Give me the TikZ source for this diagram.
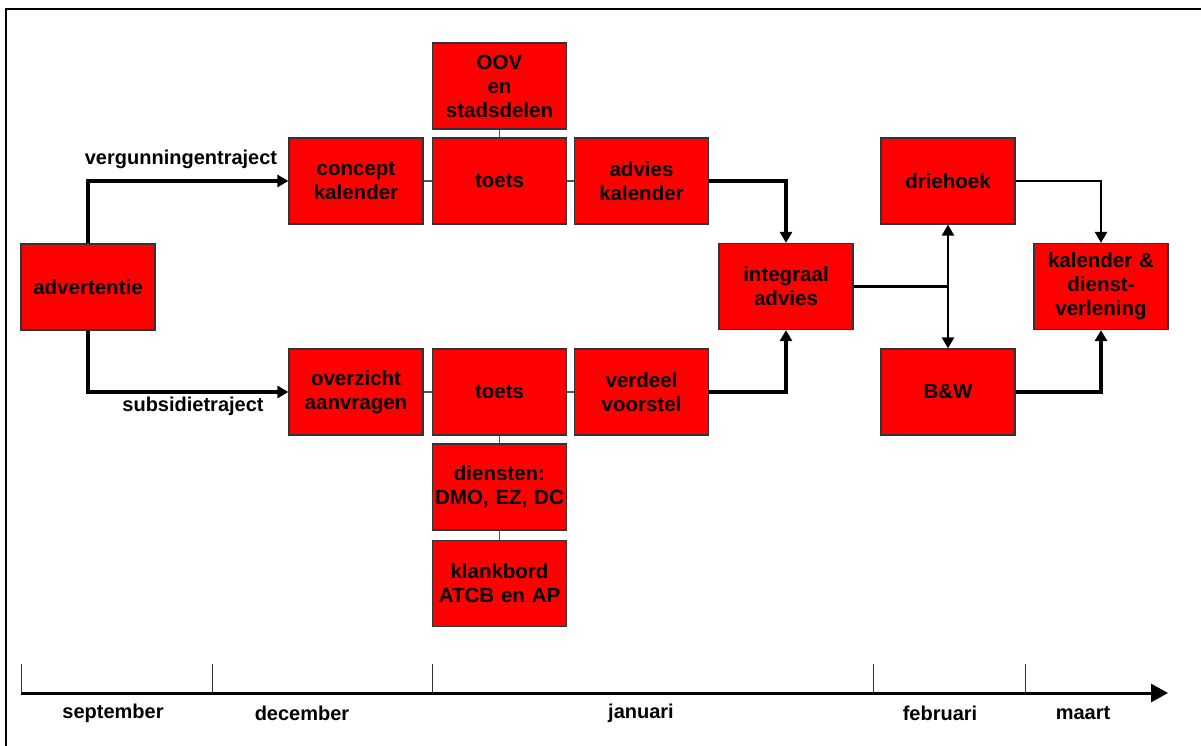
\documentclass[tikz,border=0pt]{standalone}
\usepackage{fontspec}
\setmainfont{Liberation Sans}
\usetikzlibrary{arrows.meta}

\tikzset{
  stap/.style={draw={rgb,255:red,51;green,51;blue,51}, line width=1.2pt, fill={rgb,255:red,255;green,0;blue,0},
    minimum width=134pt, minimum height=86pt, inner sep=2pt, text width=130pt, align=center,
    font=\fontsize{20.5}{24}\selectfont\bfseries},
  label/.style={font=\fontsize{20}{24}\selectfont\bfseries, inner sep=0pt},
  flow/.style={line width=3.4pt, -{Triangle[length=11pt,width=12pt]}},
  flowdun/.style={line width=2.4pt, -{Triangle[length=11pt,width=12pt]}},
  koppel/.style={draw={rgb,255:red,85;green,85;blue,85}, line width=1.2pt},
}

\begin{document}
\begin{tikzpicture}[x=1pt,y=1pt,yscale=-1]
\useasboundingbox (0,0) rectangle (1201,746);
% kader
\draw[line width=2.4pt] (6,746) -- (6,9) -- (1201,9);

% blokken
\node[stap] (advertentie) at (88,287) {advertentie};
\node[stap] (concept) at (356,181) {concept\\kalender};
\node[stap] (overzicht) at (356,392) {overzicht\\aanvragen};
\node[stap] (oov) at (499.5,86) {OOV\\en\\stadsdelen};
\node[stap] (toetsa) at (499.5,181) {toets};
\node[stap] (advies) at (641.5,181) {advies\\kalender};
\node[stap] (toetsb) at (499.5,392) {toets};
\node[stap] (verdeel) at (641.5,392) {verdeel\\voorstel};
\node[stap] (diensten) at (499.5,487) {diensten:\\DMO, EZ, DC};
\node[stap] (klankbord) at (499.5,583.5) {klankbord\\ATCB en AP};
\node[stap] (integraal) at (786,286.5) {integraal\\advies};
\node[stap] (driehoek) at (948,181) {driehoek};
\node[stap] (bw) at (948,392) {B\&W};
\node[stap] (kalender) at (1101,286.5) {kalender \&\\dienst-\\verlening};

% trajecten
\draw[flow] (advertentie.north) |- (concept.west);
\draw[flow] (advertentie.south) |- (overzicht.west);
\node[label] (vergunning) at (181,159) {vergunningentraject};
\node[label] (subsidie) at (193,406) {subsidietraject};

% koppelingen
\draw[koppel] (concept) -- (toetsa) -- (advies);
\draw[koppel] (oov) -- (toetsa);
\draw[koppel] (overzicht) -- (toetsb) -- (verdeel);
\draw[koppel] (toetsb) -- (diensten) -- (klankbord);

\draw[flow] (advies.east) -| (integraal.north);
\draw[flow] (verdeel.east) -| (integraal.south);
\coordinate (splits) at (driehoek.south |- integraal.east);
\draw[line width=2.4pt] (integraal.east) -- (splits);
\draw[flowdun] (splits) -- (driehoek.south);
\draw[flowdun] (splits) -- (bw.north);
\draw[flowdun] (driehoek.east) -| (kalender.north);
\draw[flow] (bw.east) -| (kalender.south);

% tijdlijn
\coordinate (start) at (21,693);
\coordinate (eind) at (1168,693);
\draw[line width=3pt, -{Triangle[length=17pt,width=18pt]}] (start) -- (eind);
\foreach \x in {21,212,432,873,1025}
  \draw[line width=1pt, black!80] (\x,664) -- (\x,693);
\foreach \x/\maand in {113/september,302/december,641/januari,940/februari,1083/maart}
  \node[label] (m-\maand) at (\x,713) {\maand};
\end{tikzpicture}
\end{document}
